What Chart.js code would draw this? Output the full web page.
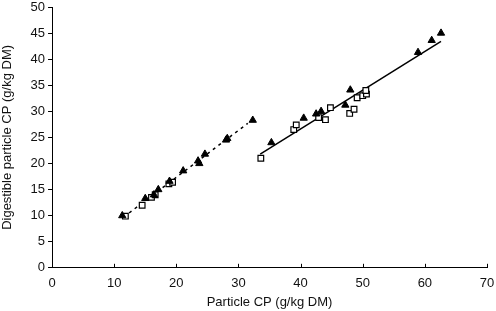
<!DOCTYPE html>
<html><head><meta charset="utf-8">
<script src="https://cdn.jsdelivr.net/npm/chart.js@4/dist/chart.umd.min.js"></script>
<style>html,body{margin:0;padding:0;background:#fff}#wrap{width:496px;height:311px}</style>
</head><body><div id="wrap"><canvas id="c" width="496" height="311"></canvas></div>
<script>
const triX = [11.3,15.0,16.4,17.1,18.9,21.1,23.5,23.7,24.6,28.0,28.2,32.3,35.3,40.5,42.5,43.3,47.2,48.0,58.9,61.1,62.6];
const triY = [10.0,13.3,14.0,15.0,16.6,18.6,20.5,20.0,21.8,24.5,24.8,28.3,24.0,28.7,29.5,30.0,31.2,34.1,41.3,43.6,45.0];
const sqX = [11.8,14.5,16.0,16.6,18.8,19.4,33.6,38.9,39.3,42.9,44.0,44.8,47.9,48.6,49.1,50.0,50.6,50.5];
const sqY = [9.9,12.0,13.5,14.0,16.1,16.4,21.0,26.5,27.4,28.8,28.4,30.7,29.6,30.4,32.6,33.0,33.3,34.0];
const dashLineX = [11.5,31.5];
const dashLineY = [9.7,27.7];
const solidLineX = [33.5,62.6];
const solidLineY = [21.8,43.4];
const xTicks = [0,10,20,30,40,50,60,70];
const yTicks = [0,5,10,15,20,25,30,35,40,45,50];

const pts = (xs, ys) => xs.map((x, i) => ({x: x, y: ys[i]}));
const FONT = "'Liberation Sans', Arial, sans-serif";

const innerTicks = {
  id: 'innerTicks',
  afterDraw(chart) {
    const ctx = chart.ctx, xs = chart.scales.x, b = chart.chartArea.bottom;
    ctx.save();
    ctx.strokeStyle = '#000';
    ctx.lineWidth = 1;
    xTicks.forEach(v => {
      const px = Math.round(xs.getPixelForValue(v)) + 0.5;
      ctx.beginPath(); ctx.moveTo(px, b); ctx.lineTo(px, b - 4); ctx.stroke();
    });
    ctx.restore();
  }
};

new Chart(document.getElementById('c'), {
  type: 'scatter',
  data: {
    datasets: [
      {data: pts(dashLineX, dashLineY), showLine: true, borderColor: '#000', borderWidth: 1.5, borderDash: [3,4], pointRadius: 0, order: 3},
      {data: pts(solidLineX, solidLineY), showLine: true, borderColor: '#000', borderWidth: 1.5, pointRadius: 0, order: 3},
      {data: pts(sqX, sqY), pointStyle: 'rect', pointRadius: 4, backgroundColor: '#fff', borderColor: '#000', borderWidth: 1.2, order: 2},
      {data: pts(triX, triY), pointStyle: 'triangle', pointRadius: 4.2, backgroundColor: '#000', borderColor: '#000', borderWidth: 1, order: 1}
    ]
  },
  options: {
    responsive: false,
    animation: false,
    events: [],
    layout: {padding: {left: 0, right: 0, top: 0, bottom: 1}},
    plugins: {legend: {display: false}, tooltip: {enabled: false}},
    scales: {
      x: {
        type: 'linear', min: 0, max: 70,
        afterBuildTicks: s => { s.ticks = xTicks.map(v => ({value: v})); },
        afterFit: s => { s.paddingRight = 9; },
        grid: {display: false},
        border: {display: true, color: '#000', width: 1},
        ticks: {color: '#111', font: {family: FONT, size: 13}, padding: 0, maxRotation: 0},
        title: {display: true, text: 'Particle CP (g/kg DM)', color: '#111', font: {family: FONT, size: 13}, padding: {top: 3, bottom: 0}}
      },
      y: {
        type: 'linear', min: 0, max: 50,
        afterBuildTicks: s => { s.ticks = yTicks.map(v => ({value: v})); },
        afterFit: s => { s.paddingTop = 7; },
        grid: {drawOnChartArea: false, drawTicks: true, tickLength: 4, color: '#000'},
        border: {display: true, color: '#000', width: 1},
        ticks: {color: '#111', font: {family: FONT, size: 13}, padding: 3},
        title: {display: true, text: 'Digestible particle CP (g/kg DM)', color: '#111', font: {family: FONT, size: 13}, padding: {top: 0, bottom: 12}}
      }
    }
  },
  plugins: [innerTicks]
});
</script></body></html>
